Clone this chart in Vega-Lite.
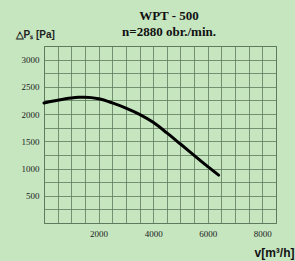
{
  "$schema": "https://vega.github.io/schema/vega-lite/v6.json",
  "width": 232,
  "height": 177,
  "autosize": {"type": "none"},
  "padding": {"left": 44, "top": 46, "right": 19, "bottom": 38},
  "background": "#c6e6c0",
  "title": {
    "text": "WPT - 500",
    "subtitle": "n=2880 obr./min.",
    "frame": "group",
    "font": "Liberation Serif",
    "subtitleFont": "Liberation Serif",
    "fontSize": 13,
    "subtitleFontSize": 13,
    "fontWeight": "bold",
    "subtitleFontWeight": "bold",
    "color": "#111",
    "subtitleColor": "#111",
    "anchor": "middle",
    "dx": 9,
    "offset": -10,
    "subtitlePadding": 3
  },
  "config": {
    "view": {"stroke": "#5f7a5c", "strokeWidth": 1, "fill": "#c6e6c0"}
  },
  "data": {
    "values": [
      {"v": 0, "p": 2205},
      {"v": 500, "p": 2255},
      {"v": 1000, "p": 2295},
      {"v": 1250, "p": 2308},
      {"v": 1500, "p": 2308},
      {"v": 2000, "p": 2280},
      {"v": 2500, "p": 2205},
      {"v": 3000, "p": 2110},
      {"v": 3500, "p": 1995},
      {"v": 4000, "p": 1848},
      {"v": 4500, "p": 1655},
      {"v": 5000, "p": 1450},
      {"v": 5500, "p": 1242},
      {"v": 6000, "p": 1035},
      {"v": 6400, "p": 880}
    ]
  },
  "mark": {"type": "line", "color": "#000", "strokeWidth": 3, "interpolate": "monotone", "strokeCap": "round"},
  "encoding": {
    "x": {
      "field": "v", "type": "quantitative",
      "scale": {"domain": [0, 8500], "nice": false, "zero": false},
      "axis": {
        "values": [0,500,1000,1500,2000,2500,3000,3500,4000,4500,5000,5500,6000,6500,7000,7500,8000,8500],
        "labelExpr": "datum.value > 0 && datum.value % 2000 == 0 ? datum.label : ''",
        "format": "d",
        "grid": true, "gridColor": "#5f7a5c", "gridOpacity": 0.8, "gridWidth": 1,
        "ticks": false, "domain": false,
        "labelFont": "Liberation Serif", "labelFontSize": 9, "labelColor": "#222", "labelPadding": 6,
        "title": "v[m³/h]",
        "titleFont": "Liberation Sans", "titleFontSize": 12, "titleFontWeight": "bold", "titleColor": "#111",
        "titleAlign": "right", "titleX": 250, "titleY": 33, "titleBaseline": "alphabetic"
      }
    },
    "y": {
      "field": "p", "type": "quantitative",
      "scale": {"domain": [0, 3250], "nice": false, "zero": false},
      "axis": {
        "values": [0,250,500,750,1000,1250,1500,1750,2000,2250,2500,2750,3000,3250],
        "labelExpr": "datum.value > 0 && datum.value % 500 == 0 ? datum.label : ''",
        "format": "d",
        "grid": true, "gridColor": "#5f7a5c", "gridOpacity": 0.8, "gridWidth": 1,
        "ticks": false, "domain": false,
        "labelFont": "Liberation Serif", "labelFontSize": 9, "labelColor": "#222", "labelPadding": 5,
        "title": "△Pₛ [Pa]",
        "titleFont": "Liberation Sans", "titleFontSize": 10, "titleFontWeight": "bold", "titleColor": "#222",
        "titleAngle": 0, "titleAlign": "left", "titleX": -29, "titleY": -9, "titleBaseline": "alphabetic"
      }
    }
  }
}
